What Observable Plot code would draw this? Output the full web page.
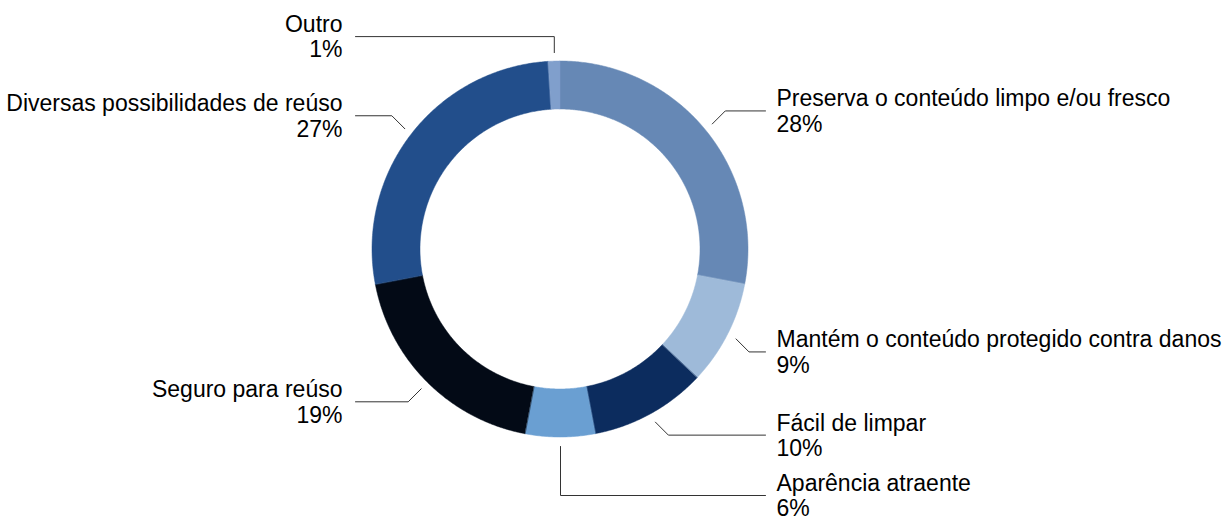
<!DOCTYPE html>
<html><head><meta charset="utf-8">
<script src="https://cdn.jsdelivr.net/npm/d3@7"></script>
<script src="https://cdn.jsdelivr.net/npm/@observablehq/plot@0.6"></script>
<style>body{margin:0;background:#fff}</style>
</head><body><div id="chart"></div>
<script>
// ---- data ----
const categories = [
  "Preserva o conteúdo limpo e/ou fresco",
  "Mantém o conteúdo protegido contra danos",
  "Fácil de limpar",
  "Aparência atraente",
  "Seguro para reúso",
  "Diversas possibilidades de reúso",
  "Outro"
];
const values = [28, 9, 10, 6, 19, 27, 1];
const percentLabels = ["28%", "9%", "10%", "6%", "19%", "27%", "1%"];
const colors = ["#6688b5", "#9ebad9", "#0c2c5e", "#6a9fd2", "#030a16", "#224e8b", "#809fcc"];

// ---- layout ----
const W = 1230, H = 524;
const cx = 560, cy = 249, rOuter = 188, rInner = 140, rLeader = 197;
const diag = 13, xRight = 765, xLeft = 355, textGap = 11;
const verticalLeg = {"Aparência atraente": 49, "Outro": -16};

const total = d3.sum(values);
let acc = 0;
const slices = categories.map((c, i) => {
  const a0 = acc / total * 2 * Math.PI;
  acc += values[i];
  const a1 = acc / total * 2 * Math.PI;
  return {c, i, a0, a1, mid: (a0 + a1) / 2};
});

// annular sector outlines sampled from slice angles
const ring = [];
for (const s of slices) {
  const n = Math.max(2, Math.ceil((s.a1 - s.a0) / (Math.PI / 360)));
  for (let k = 0; k <= n; k++) {
    const a = s.a0 + (s.a1 - s.a0) * k / n;
    ring.push({c: s.c, x1: cx + rOuter * Math.sin(a), y1: cy - rOuter * Math.cos(a),
               x2: cx + rInner * Math.sin(a), y2: cy - rInner * Math.cos(a)});
  }
}

// leader lines
const leaders = [];
const labelPts = [];
for (const s of slices) {
  const sn = Math.sin(s.mid), cs = Math.cos(s.mid);
  const right = sn >= -1e-9;
  const p0 = {x: cx + rLeader * sn, y: cy - rLeader * cs};
  let p1;
  if (verticalLeg[s.c] !== undefined) p1 = {x: p0.x, y: p0.y + verticalLeg[s.c]};
  else p1 = {x: p0.x + (right ? diag : -diag), y: p0.y + (cs > 0 ? -diag : diag)};
  const p2 = {x: right ? xRight : xLeft, y: p1.y};
  for (const p of [p0, p1, p2]) leaders.push({c: s.c, x: p.x, y: p.y});
  labelPts.push({c: s.c, right, x: right ? xRight + textGap : xLeft - textGap - 2, y: p2.y,
                 text: s.c + "\n" + percentLabels[s.i]});
}

const textOpts = {x: "x", y: "y", text: "text", fontSize: 23, lineHeight: 1.1, lineAnchor: "middle", fill: "#000"};

const chart = Plot.plot({
  width: W, height: H,
  margin: 0,
  x: {domain: [0, W], range: [0, W], axis: null},
  y: {domain: [0, H], range: [0, H], axis: null},
  color: {domain: categories, range: colors},
  style: {fontFamily: "'Liberation Sans', Helvetica, Arial, sans-serif", background: "#fff"},
  marks: [
    Plot.area(ring, {x1: "x1", y1: "y1", x2: "x2", y2: "y2", z: "c", fill: "c", stroke: "c", strokeWidth: 0.5}),
    Plot.line(leaders, {x: "x", y: "y", z: "c", stroke: "#333", strokeWidth: 1, curve: "linear"}),
    Plot.text(labelPts.filter(d => d.right), {...textOpts, textAnchor: "start"}),
    Plot.text(labelPts.filter(d => !d.right), {...textOpts, textAnchor: "end"})
  ]
});
document.getElementById("chart").appendChild(chart);
</script>
</body></html>
